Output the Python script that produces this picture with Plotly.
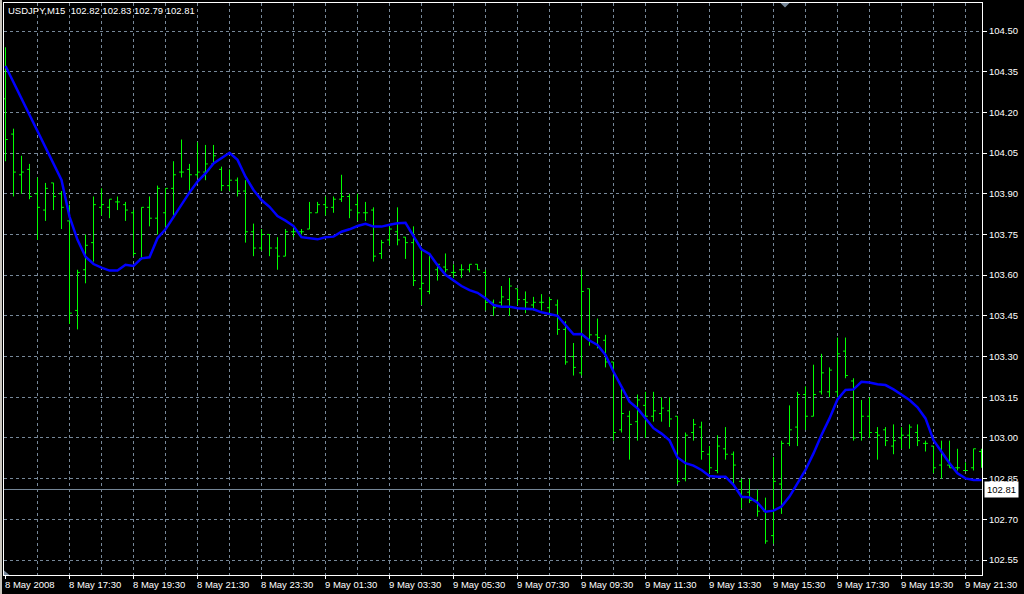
import plotly.graph_objects as go

# ---------------- data ----------------
symbol_title = "USDJPY,M15  102.82 102.83 102.79 102.81"
bid_price = 102.81

opens = [104.25, 104.12, 103.97, 103.99, 103.90, 103.84, 103.94, 103.90, 103.80, 103.47,
         103.62, 103.72, 103.85, 103.85, 103.87, 103.86, 103.83, 103.66, 103.85, 103.81,
         103.83, 103.92, 103.98, 103.99, 103.97, 103.98, 104.01, 103.99, 103.93, 103.95,
         103.91, 103.76, 103.70, 103.75, 103.70, 103.67, 103.76, 103.76, 103.77, 103.83,
         103.86, 103.85, 103.88, 103.89, 103.86, 103.83, 103.84, 103.68, 103.73, 103.76,
         103.74, 103.72, 103.55, 103.54, 103.62, 103.63, 103.61, 103.62, 103.62, 103.64,
         103.61, 103.50, 103.50, 103.51, 103.55, 103.51, 103.49, 103.50, 103.48, 103.49,
         103.40, 103.30, 103.24, 103.55, 103.38, 103.36, 103.28, 103.03, 103.08, 103.06,
         103.12, 103.08, 103.09, 103.10, 103.08, 102.85, 103.02, 103.04, 102.94, 102.88,
         102.96, 102.94, 102.84, 102.80, 102.77, 102.73, 102.64, 102.83, 102.98, 103.04,
         103.16, 103.08, 103.17, 103.17, 103.17, 103.32, 103.21, 103.02, 103.08, 103.02,
         103.03, 102.97, 103.00, 103.01, 103.02, 102.98, 102.97, 102.90, 102.90, 102.89,
         102.88, 102.89, 102.95]

highs = [104.44, 104.14, 104.04, 104.01, 103.96, 103.94, 103.94, 103.91, 103.86, 103.62,
         103.75, 103.89, 103.92, 103.88, 103.89, 103.87, 103.84, 103.85, 103.89, 103.93,
         103.92, 104.02, 104.10, 104.01, 104.09, 104.08, 104.08, 104.00, 103.99, 103.96,
         103.95, 103.79, 103.77, 103.75, 103.74, 103.77, 103.78, 103.77, 103.87, 103.87,
         103.89, 103.89, 103.97, 103.90, 103.90, 103.87, 103.85, 103.73, 103.78, 103.85,
         103.74, 103.78, 103.70, 103.67, 103.64, 103.68, 103.64, 103.64, 103.64, 103.64,
         103.62, 103.51, 103.56, 103.59, 103.55, 103.54, 103.52, 103.53, 103.52, 103.51,
         103.43, 103.35, 103.62, 103.55, 103.44, 103.38, 103.28, 103.18, 103.10, 103.16,
         103.17, 103.17, 103.15, 103.15, 103.08, 103.02, 103.07, 103.06, 102.97, 103.01,
         103.04, 102.95, 102.85, 102.85, 102.81, 102.78, 102.93, 102.99, 103.12, 103.17,
         103.19, 103.27, 103.31, 103.26, 103.37, 103.37, 103.22, 103.14, 103.15, 103.04,
         103.04, 103.05, 103.04, 103.05, 103.05, 102.99, 102.97, 102.99, 102.99, 102.96,
         102.91, 102.96, 102.96]

lows = [104.02, 103.89, 103.90, 103.88, 103.73, 103.80, 103.84, 103.77, 103.42, 103.40,
        103.57, 103.65, 103.82, 103.81, 103.84, 103.80, 103.67, 103.66, 103.78, 103.75,
        103.78, 103.82, 103.96, 103.91, 103.96, 103.95, 104.01, 103.91, 103.91, 103.89,
        103.72, 103.67, 103.69, 103.67, 103.62, 103.67, 103.74, 103.75, 103.77, 103.83,
        103.82, 103.83, 103.87, 103.81, 103.80, 103.80, 103.65, 103.66, 103.71, 103.71,
        103.66, 103.56, 103.49, 103.53, 103.58, 103.61, 103.59, 103.59, 103.61, 103.62,
        103.47, 103.45, 103.48, 103.45, 103.49, 103.46, 103.47, 103.47, 103.45, 103.38,
        103.27, 103.23, 103.23, 103.34, 103.33, 103.26, 102.99, 103.02, 102.92, 102.99,
        103.00, 103.06, 103.06, 103.04, 102.83, 102.84, 102.99, 102.92, 102.87, 102.87,
        102.92, 102.83, 102.74, 102.76, 102.71, 102.61, 102.61, 102.72, 102.97, 102.97,
        103.03, 103.08, 103.16, 103.15, 103.15, 103.22, 102.99, 102.99, 103.00, 102.92,
        102.97, 102.94, 102.96, 102.96, 102.97, 102.95, 102.87, 102.85, 102.89, 102.88,
        102.88, 102.88, 102.89]

closes = [104.10, 103.98, 103.98, 103.89, 103.85, 103.92, 103.89, 103.85, 103.46, 103.61,
          103.71, 103.86, 103.86, 103.88, 103.87, 103.84, 103.68, 103.85, 103.81, 103.92,
          103.92, 103.97, 103.98, 103.97, 103.98, 104.01, 104.04, 103.93, 103.95, 103.91,
          103.76, 103.70, 103.75, 103.70, 103.67, 103.76, 103.76, 103.76, 103.83, 103.86,
          103.85, 103.88, 103.89, 103.84, 103.83, 103.83, 103.67, 103.72, 103.77, 103.73,
          103.72, 103.58, 103.57, 103.67, 103.64, 103.62, 103.61, 103.62, 103.64, 103.62,
          103.50, 103.48, 103.52, 103.56, 103.51, 103.50, 103.50, 103.50, 103.51, 103.40,
          103.28, 103.26, 103.54, 103.38, 103.37, 103.28, 103.02, 103.09, 103.05, 103.14,
          103.08, 103.10, 103.11, 103.07, 102.84, 103.01, 103.05, 102.95, 102.89, 102.97,
          102.94, 102.90, 102.78, 102.77, 102.73, 102.62, 102.84, 102.98, 103.03, 103.16,
          103.08, 103.16, 103.24, 103.25, 103.31, 103.23, 103.00, 103.08, 103.02, 103.01,
          102.99, 102.99, 103.01, 103.04, 102.99, 102.98, 102.89, 102.94, 102.89, 102.89,
          102.88, 102.96, 102.95]

ma_values = [104.371, 104.311, 104.252, 104.192, 104.133, 104.073, 104.013, 103.951, 103.816, 103.730,
             103.668, 103.641, 103.628, 103.617, 103.617, 103.638, 103.634, 103.662, 103.666, 103.736,
             103.769, 103.816, 103.859, 103.905, 103.945, 103.975, 104.012, 104.031, 104.051, 104.025,
             103.963, 103.914, 103.877, 103.852, 103.818, 103.801, 103.781, 103.740, 103.736, 103.732,
             103.740, 103.742, 103.760, 103.769, 103.781, 103.789, 103.779, 103.779, 103.786, 103.791,
             103.793, 103.744, 103.695, 103.678, 103.637, 103.601, 103.580, 103.560, 103.545, 103.535,
             103.515, 103.490, 103.484, 103.484, 103.478, 103.476, 103.474, 103.463, 103.456, 103.450,
             103.416, 103.382, 103.383, 103.359, 103.343, 103.306, 103.244, 103.189, 103.134, 103.109,
             103.072, 103.036, 103.016, 102.991, 102.928, 102.907, 102.898, 102.882, 102.860, 102.857,
             102.857, 102.827, 102.783, 102.781, 102.761, 102.728, 102.732, 102.747, 102.784, 102.833,
             102.882, 102.943, 103.011, 103.072, 103.142, 103.177, 103.179, 103.207, 103.204, 103.198,
             103.195, 103.179, 103.161, 103.140, 103.113, 103.072, 102.992, 102.949, 102.907, 102.870,
             102.851, 102.845, 102.845]

time_label_bars = [0, 8, 16, 24, 32, 40, 48, 56, 64, 72, 80, 88, 96, 104, 112, 120]
time_labels = ["8 May 2008", "8 May 17:30", "8 May 19:30", "8 May 21:30", "8 May 23:30",
               "9 May 01:30", "9 May 03:30", "9 May 05:30", "9 May 07:30", "9 May 09:30",
               "9 May 11:30", "9 May 13:30", "9 May 15:30", "9 May 17:30", "9 May 19:30",
               "9 May 21:30"]

price_ticks = [104.50, 104.35, 104.20, 104.05, 103.90, 103.75, 103.60, 103.45,
               103.30, 103.15, 103.00, 102.85, 102.70, 102.55]

# ---------------- styling ----------------
BAR_GREEN = "#00ff00"
MA_BLUE = "#0000ff"
GRID = "#778899"
FONT = "Liberation Sans"
FS = 9.5

bar_index = list(range(len(closes)))

fig = go.Figure()
fig.add_trace(go.Ohlc(
    x=bar_index, open=opens, high=highs, low=lows, close=closes,
    increasing=dict(line=dict(color=BAR_GREEN, width=1)),
    decreasing=dict(line=dict(color=BAR_GREEN, width=1)),
    tickwidth=0.3, hoverinfo="skip", showlegend=False,
))
fig.add_trace(go.Scatter(
    x=bar_index, y=ma_values, mode="lines",
    line=dict(color=MA_BLUE, width=2.5), hoverinfo="skip", showlegend=False,
))

W, H = 1024, 594
ML, MR, MT, MB = 4, 42, 3, 19
plot_w = W - ML - MR
plot_h = H - MT - MB
BAR_PX = 8
x0 = -1.5 / BAR_PX
x1 = x0 + plot_w / BAR_PX

grid_bars = [b for b in range(4, 123, 4)]

fig.update_layout(
    width=W, height=H,
    margin=dict(l=ML, r=MR, t=MT, b=MB, pad=0),
    paper_bgcolor="black", plot_bgcolor="black",
    showlegend=False,
    font=dict(family=FONT, size=FS, color="white"),
    xaxis=dict(
        range=[x0, x1],
        tickvals=time_label_bars, showticklabels=False,
        ticks="outside", ticklen=3, tickcolor="white", tickwidth=1,
        showgrid=False,
        minor=dict(tickvals=grid_bars, showgrid=True, gridcolor=GRID,
                   griddash="3px,3px", gridwidth=1, ticks=""),
        showline=True, linecolor="white", linewidth=1, mirror=True,
        zeroline=False, rangeslider=dict(visible=False), fixedrange=True,
    ),
    yaxis=dict(
        side="right", range=[102.4948, 104.6032],
        tickvals=price_ticks, tickformat=".2f",
        ticks="outside", ticklen=4, tickcolor="white", tickwidth=1,
        tickfont=dict(family=FONT, size=FS, color="white"),
        showgrid=True, gridcolor=GRID, griddash="3px,3px", gridwidth=1,
        showline=True, linecolor="white", linewidth=1, mirror=True,
        zeroline=False, fixedrange=True,
    ),
)

# bid line
fig.add_shape(type="line", xref="paper", x0=0, x1=1, yref="y", y0=bid_price, y1=bid_price,
              line=dict(color=GRID, width=1), layer="below")
fig.add_annotation(x=1, xref="paper", xanchor="left", xshift=2, y=bid_price, yref="y",
                   text=f"{bid_price:.2f}", showarrow=False,
                   font=dict(family=FONT, size=FS, color="black"),
                   bgcolor="white", borderpad=2)

# title text
fig.add_annotation(x=2 / plot_w, xref="paper", xanchor="left",
                   y=1 - 7.7 / plot_h, yref="paper", yanchor="middle",
                   text=symbol_title, showarrow=False,
                   font=dict(family=FONT, size=FS, color="white"))

# time labels (left aligned at their tick)
for b, lab in zip(time_label_bars, time_labels):
    fig.add_annotation(x=b, xref="x", xanchor="left", xshift=-3,
                       y=-9.5 / plot_h, yref="paper", yanchor="middle",
                       text=lab, showarrow=False,
                       font=dict(family=FONT, size=FS, color="white"))

# chart-shift markers
tx = (785 - ML) / plot_w
fig.add_shape(type="path", xref="paper", yref="paper",
              path=f"M {tx - 4.5/plot_w} 1 L {tx + 4.5/plot_w} 1 L {tx} {1 - 4.5/plot_h} Z",
              fillcolor=GRID, line=dict(width=0))
fig.add_shape(type="path", xref="paper", yref="paper",
              path=f"M 0 0 L {5.5/plot_w} 0 L 0 {4.5/plot_h} Z",
              fillcolor=GRID, line=dict(width=0))
# window frame at far left
fig.add_shape(type="rect", xref="paper", yref="paper",
              x0=-4 / plot_w, x1=-2 / plot_w, y0=-MB / plot_h, y1=1 + MT / plot_h,
              fillcolor="#c8c4bc", line=dict(width=0))

fig.write_html("out.html", config={"displayModeBar": False},
               post_script="document.body.style.margin='0';document.body.style.background='black';")
